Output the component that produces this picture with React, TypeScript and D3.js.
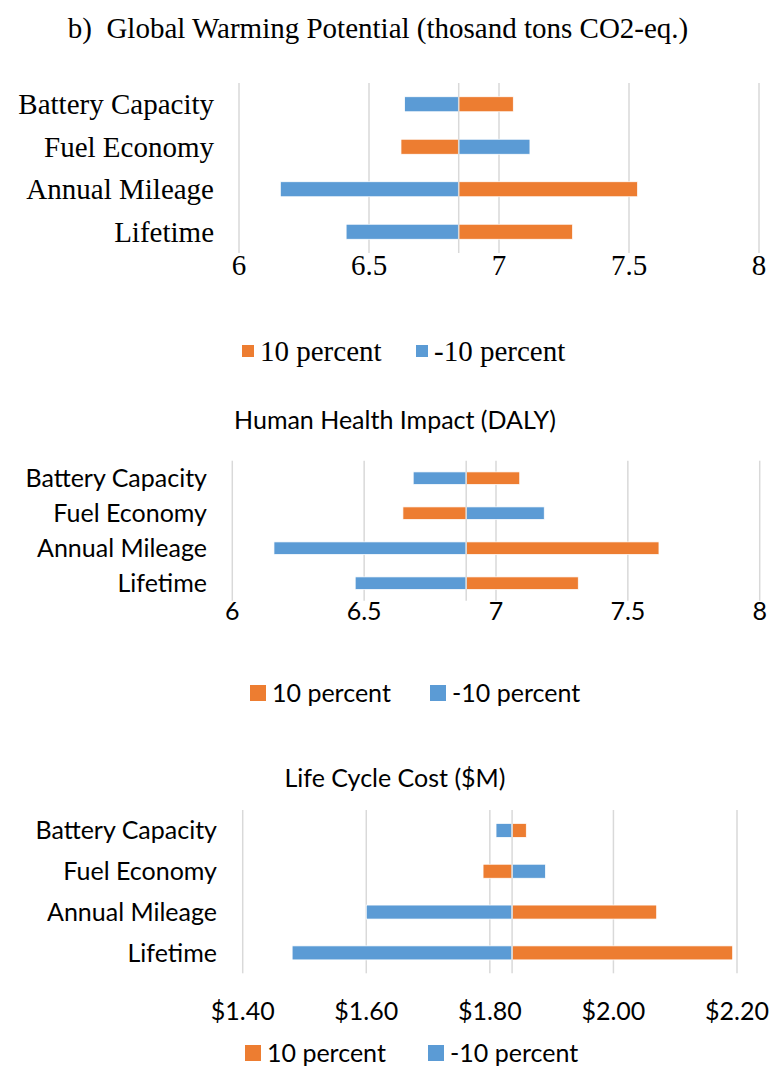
import React from "react";
import * as d3 from "d3";

const categories = ["Battery Capacity", "Fuel Economy", "Annual Mileage", "Lifetime"];
const seriesNames = ["10 percent", "-10 percent"];

// Global warming potential (thousand tons CO2-eq.)
const gwpBase = 6.845;
const gwpPlus10 = [7.055, 6.623, 7.533, 7.283];
const gwpMinus10 = [6.637, 7.119, 6.159, 6.412];
const gwpTicks = [6, 6.5, 7, 7.5, 8];

// Human health impact (DALY)
const hhBase = 6.887;
const hhPlus10 = [7.09, 6.647, 7.618, 7.312];
const hhMinus10 = [6.686, 7.183, 6.158, 6.466];
const hhTicks = [6, 6.5, 7, 7.5, 8];

// Life cycle cost ($M)
const lccBase = 1.836;
const lccPlus10 = [1.859, 1.789, 2.07, 2.193];
const lccMinus10 = [1.81, 1.89, 1.6, 1.48];
const lccTicks = [1.4, 1.6, 1.8, 2.0, 2.2];

const ORANGE = "#ED7D31";
const BLUE = "#5B9BD5";
const GRID = "#D9D9D9";
const SERIF = "'Liberation Serif', 'Times New Roman', serif";
const SANS = "Lato, 'Open Sans', sans-serif";

type PanelProps = {
  title: string;
  titleX: number;
  titleY: number;
  titleSize: number;
  font: string;
  labelSize: number;
  base: number;
  plus: number[];
  minus: number[];
  ticks: number[];
  fmt: (v: number) => string;
  x0: number;
  x1: number;
  top: number;
  bottom: number;
  barRatio: number;
  labelX: number;
  tickY: number;
  legendY: number;
  legendX: number[];
  sw: number;
};

function Panel(p: PanelProps) {
  const x = d3
    .scaleLinear()
    .domain([p.ticks[0], p.ticks[p.ticks.length - 1]])
    .range([p.x0, p.x1]);
  const pad = 1 - p.barRatio;
  const y = d3
    .scaleBand<string>()
    .domain(categories)
    .range([p.top, p.bottom])
    .paddingInner(pad)
    .paddingOuter(pad / 2);
  const bw = y.bandwidth();
  const bar = (v: number) => ({ x: Math.min(x(v), x(p.base)), w: Math.abs(x(v) - x(p.base)) });

  return (
    <g fontFamily={p.font}>
      <text
        x={p.titleX}
        y={p.titleY}
        dy="0.35em"
        fontSize={p.titleSize}
        textAnchor="middle"
        fill="#000"
        xmlSpace="preserve"
        style={{ whiteSpace: "pre" }}
      >
        {p.title}
      </text>
      {p.ticks.map((t) => (
        <line key={t} x1={x(t)} x2={x(t)} y1={p.top} y2={p.bottom} stroke={GRID} strokeWidth={1.5} />
      ))}
      {categories.map((c, i) => {
        const pb = bar(p.plus[i]);
        const mb = bar(p.minus[i]);
        return (
          <g key={c}>
            <rect x={mb.x} y={y(c)} width={mb.w} height={bw} fill={BLUE} stroke="#fff" strokeWidth={0.75} />
            <rect x={pb.x} y={y(c)} width={pb.w} height={bw} fill={ORANGE} stroke="#fff" strokeWidth={0.75} />
            <text
              x={p.labelX}
              y={(y(c) as number) + bw / 2}
              dy="0.35em"
              textAnchor="end"
              fontSize={p.labelSize}
              fill="#000"
            >
              {c}
            </text>
          </g>
        );
      })}
      <line x1={x(p.base)} x2={x(p.base)} y1={p.top} y2={p.bottom} stroke={GRID} strokeWidth={1.5} />
      {p.ticks.map((t) => (
        <text key={t} x={x(t)} y={p.tickY} dy="0.35em" textAnchor="middle" fontSize={p.labelSize} fill="#000">
          {p.fmt(t)}
        </text>
      ))}
      {seriesNames.map((s, i) => (
        <g key={s}>
          <rect
            x={p.legendX[i]}
            y={p.legendY - p.sw / 2}
            width={p.sw}
            height={p.sw}
            fill={i === 0 ? ORANGE : BLUE}
          />
          <text x={p.legendX[i] + p.sw + 6} y={p.legendY} dy="0.35em" fontSize={p.labelSize} fill="#000">
            {s}
          </text>
        </g>
      ))}
    </g>
  );
}

export default function App() {
  const fmt1 = (v: number) => d3.format("")(v);
  const fmtUsd = (v: number) => "$" + d3.format(".2f")(v);
  return (
    <svg
      width={775}
      height={1068}
      style={{ position: "absolute", left: 0, top: 0, background: "#fff" }}
    >
      <Panel
        title="b)  Global Warming Potential (thosand tons CO2-eq.)"
        titleX={378}
        titleY={28}
        titleSize={29}
        font={SERIF}
        labelSize={29}
        base={gwpBase}
        plus={gwpPlus10}
        minus={gwpMinus10}
        ticks={gwpTicks}
        fmt={fmt1}
        x0={239}
        x1={759}
        top={83}
        bottom={253}
        barRatio={0.353}
        labelX={214}
        tickY={265}
        legendY={351}
        legendX={[242, 416]}
        sw={12}
      />
      <Panel
        title="Human Health Impact (DALY)"
        titleX={395}
        titleY={420}
        titleSize={25}
        font={SANS}
        labelSize={25}
        base={hhBase}
        plus={hhPlus10}
        minus={hhMinus10}
        ticks={hhTicks}
        fmt={fmt1}
        x0={232.3}
        x1={759.7}
        top={460.7}
        bottom={600.7}
        barRatio={0.36}
        labelX={207}
        tickY={611}
        legendY={693}
        legendX={[250, 430]}
        sw={16}
      />
      <Panel
        title="Life Cycle Cost ($M)"
        titleX={395}
        titleY={778}
        titleSize={25}
        font={SANS}
        labelSize={25}
        base={lccBase}
        plus={lccPlus10}
        minus={lccMinus10}
        ticks={lccTicks}
        fmt={fmtUsd}
        x0={242.7}
        x1={737}
        top={810}
        bottom={973.3}
        barRatio={0.343}
        labelX={217}
        tickY={1011}
        legendY={1053}
        legendX={[245, 428]}
        sw={16}
      />
    </svg>
  );
}
